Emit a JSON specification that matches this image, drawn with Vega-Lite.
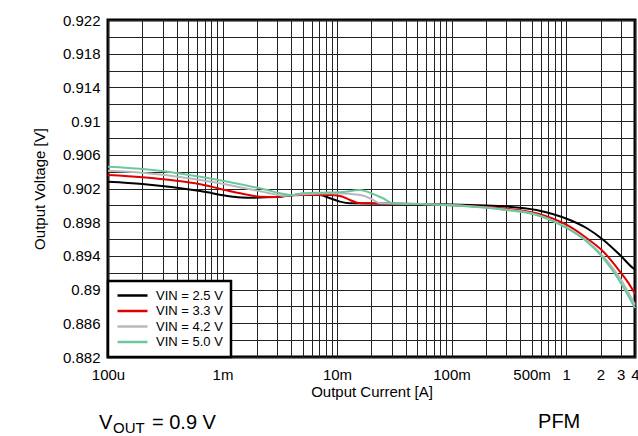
{
  "$schema": "https://vega.github.io/schema/vega-lite/v6.json",
  "width": 527,
  "height": 337,
  "autosize": {"type": "none"},
  "padding": {"left": 108, "top": 20, "right": 3, "bottom": 79},
  "background": "white",
  "config": {
    "font": "Liberation Sans",
    "view": {"stroke": "black", "strokeWidth": 3},
    "axis": {
      "labelFont": "Liberation Sans", "labelFontSize": 15, "labelColor": "black",
      "titleFont": "Liberation Sans", "titleFontSize": 15, "titleFontWeight": "normal", "titleColor": "black",
      "ticks": false, "domain": false, "gridColor": "#222222", "gridOpacity": 1, "gridWidth": 1
    },
    "legend": {"strokeWidth": 2.5}
  },
  "resolve": {"axis": {"y": "independent"}},
  "layer": [
    {
      "data": {"values": [
        {"I":0.0001,"V":0.9028,"s":"2.5"},
        {"I":0.0002,"V":0.90253,"s":"2.5"},
        {"I":0.00064,"V":0.9017,"s":"2.5"},
        {"I":0.00123,"V":0.90103,"s":"2.5"},
        {"I":0.00164,"V":0.90091,"s":"2.5"},
        {"I":0.003,"V":0.90098,"s":"2.5"},
        {"I":0.004,"V":0.9012,"s":"2.5"},
        {"I":0.005,"V":0.90131,"s":"2.5"},
        {"I":0.0071,"V":0.90123,"s":"2.5"},
        {"I":0.0087,"V":0.90084,"s":"2.5"},
        {"I":0.0106,"V":0.90044,"s":"2.5"},
        {"I":0.013,"V":0.90024,"s":"2.5"},
        {"I":0.03,"V":0.9002,"s":"2.5"},
        {"I":0.053,"V":0.90016,"s":"2.5"},
        {"I":0.145,"V":0.90004,"s":"2.5"},
        {"I":0.28,"V":0.89989,"s":"2.5"},
        {"I":0.55,"V":0.89945,"s":"2.5"},
        {"I":1.08,"V":0.89826,"s":"2.5"},
        {"I":1.52,"V":0.89728,"s":"2.5"},
        {"I":2.12,"V":0.89589,"s":"2.5"},
        {"I":2.96,"V":0.8941,"s":"2.5"},
        {"I":3.87,"V":0.89253,"s":"2.5"},
        {"I":4.0,"V":0.8924,"s":"2.5"},

        {"I":0.0001,"V":0.9036,"s":"3.3"},
        {"I":0.0002,"V":0.90333,"s":"3.3"},
        {"I":0.00064,"V":0.9025,"s":"3.3"},
        {"I":0.00123,"V":0.90162,"s":"3.3"},
        {"I":0.00213,"V":0.90103,"s":"3.3"},
        {"I":0.003,"V":0.90098,"s":"3.3"},
        {"I":0.0034,"V":0.90111,"s":"3.3"},
        {"I":0.005,"V":0.90123,"s":"3.3"},
        {"I":0.0087,"V":0.90123,"s":"3.3"},
        {"I":0.0106,"V":0.90111,"s":"3.3"},
        {"I":0.013,"V":0.90064,"s":"3.3"},
        {"I":0.015,"V":0.90032,"s":"3.3"},
        {"I":0.0194,"V":0.90024,"s":"3.3"},
        {"I":0.053,"V":0.90016,"s":"3.3"},
        {"I":0.145,"V":0.89992,"s":"3.3"},
        {"I":0.28,"V":0.89965,"s":"3.3"},
        {"I":0.55,"V":0.89906,"s":"3.3"},
        {"I":1.08,"V":0.89747,"s":"3.3"},
        {"I":1.52,"V":0.89609,"s":"3.3"},
        {"I":2.12,"V":0.8945,"s":"3.3"},
        {"I":2.96,"V":0.89213,"s":"3.3"},
        {"I":3.5,"V":0.8908,"s":"3.3"},
        {"I":4.0,"V":0.8895,"s":"3.3"},

        {"I":0.0001,"V":0.90411,"s":"4.2"},
        {"I":0.0002,"V":0.90388,"s":"4.2"},
        {"I":0.00064,"V":0.90301,"s":"4.2"},
        {"I":0.00123,"V":0.90233,"s":"4.2"},
        {"I":0.00245,"V":0.9015,"s":"4.2"},
        {"I":0.00338,"V":0.90115,"s":"4.2"},
        {"I":0.005,"V":0.90131,"s":"4.2"},
        {"I":0.01,"V":0.90143,"s":"4.2"},
        {"I":0.016,"V":0.90123,"s":"4.2"},
        {"I":0.0194,"V":0.90084,"s":"4.2"},
        {"I":0.024,"V":0.90024,"s":"4.2"},
        {"I":0.053,"V":0.90016,"s":"4.2"},
        {"I":0.145,"V":0.8999,"s":"4.2"},
        {"I":0.28,"V":0.89955,"s":"4.2"},
        {"I":0.55,"V":0.89893,"s":"4.2"},
        {"I":1.08,"V":0.89715,"s":"4.2"},
        {"I":1.52,"V":0.8958,"s":"4.2"},
        {"I":2.12,"V":0.8939,"s":"4.2"},
        {"I":2.96,"V":0.89134,"s":"4.2"},
        {"I":3.87,"V":0.88857,"s":"4.2"},
        {"I":4.0,"V":0.8882,"s":"4.2"},

        {"I":0.0001,"V":0.90459,"s":"5.0"},
        {"I":0.0002,"V":0.90432,"s":"5.0"},
        {"I":0.00064,"V":0.9034,"s":"5.0"},
        {"I":0.00123,"V":0.90269,"s":"5.0"},
        {"I":0.00245,"V":0.90182,"s":"5.0"},
        {"I":0.00318,"V":0.90143,"s":"5.0"},
        {"I":0.0039,"V":0.90123,"s":"5.0"},
        {"I":0.00505,"V":0.90143,"s":"5.0"},
        {"I":0.0071,"V":0.9015,"s":"5.0"},
        {"I":0.0106,"V":0.90155,"s":"5.0"},
        {"I":0.0159,"V":0.90182,"s":"5.0"},
        {"I":0.0194,"V":0.9015,"s":"5.0"},
        {"I":0.0252,"V":0.90084,"s":"5.0"},
        {"I":0.0308,"V":0.90024,"s":"5.0"},
        {"I":0.053,"V":0.90016,"s":"5.0"},
        {"I":0.145,"V":0.89985,"s":"5.0"},
        {"I":0.28,"V":0.89949,"s":"5.0"},
        {"I":0.55,"V":0.89886,"s":"5.0"},
        {"I":1.08,"V":0.89708,"s":"5.0"},
        {"I":1.52,"V":0.89569,"s":"5.0"},
        {"I":2.12,"V":0.89372,"s":"5.0"},
        {"I":2.96,"V":0.89094,"s":"5.0"},
        {"I":3.87,"V":0.88817,"s":"5.0"},
        {"I":4.0,"V":0.8878,"s":"5.0"}
      ]},
      "mark": {"type": "line", "strokeWidth": 2, "interpolate": "monotone"},
      "encoding": {
        "x": {
          "field": "I", "type": "quantitative",
          "scale": {"type": "log", "domain": [0.0001, 4], "nice": false},
          "axis": {
            "title": "Output Current [A]",
            "values": [0.0001,0.0002,0.0003,0.0004,0.0005,0.0006,0.0007,0.0008,0.0009,0.001,0.002,0.003,0.004,0.005,0.006,0.007,0.008,0.009,0.01,0.02,0.03,0.04,0.05,0.06,0.07,0.08,0.09,0.1,0.2,0.3,0.4,0.5,0.6,0.7,0.8,0.9,1,2,3,4],
            "labelExpr": "datum.value == 0.0001 ? '100u' : datum.value == 0.001 ? '1m' : datum.value == 0.01 ? '10m' : datum.value == 0.1 ? '100m' : datum.value == 0.5 ? '500m' : datum.value == 1 ? '1' : datum.value == 2 ? '2' : datum.value == 3 ? '3' : datum.value == 4 ? '4' : ''",
            "labelOverlap": false, "labelFlush": false, "labelPadding": 10, "titlePadding": 2
          }
        },
        "y": {
          "field": "V", "type": "quantitative",
          "scale": {"domain": [0.882, 0.922], "nice": false, "zero": false},
          "axis": {
            "title": "Output Voltage [V]",
            "values": [0.882,0.886,0.89,0.894,0.898,0.902,0.906,0.91,0.914,0.918,0.922],
            "format": "~g",
            "labelOverlap": false, "labelPadding": 8, "titlePadding": 15
          }
        },
        "color": {
          "field": "s", "type": "nominal",
          "scale": {"domain": ["2.5","3.3","4.2","5.0"], "range": ["#000000","#e00000","#b8b8b8","#6cc89c"]},
          "legend": {
            "orient": "bottom-left", "offset": 0, "title": null,
            "labelExpr": "'VIN = ' + datum.label + ' V'",
            "symbolType": "M-1,0L5,0", "symbolSize": 100, "symbolStrokeWidth": 2.5,
            "labelFont": "Liberation Sans", "labelFontSize": 13, "labelColor": "black", "labelOffset": 27,
            "strokeColor": "black", "fillColor": "white", "padding": 8, "rowPadding": 1.5
          }
        }
      }
    },
    {
      "data": {"values": [{"t": "V"}]},
      "mark": {"type": "text", "align": "left", "baseline": "alphabetic", "fontSize": 20, "font": "Liberation Sans", "color": "black"},
      "encoding": {"x": {"datum": 0.0000834}, "y": {"datum": 0.87346, "axis": null}, "text": {"field": "t"}}
    },
    {
      "data": {"values": [{"t": "OUT"}]},
      "mark": {"type": "text", "align": "left", "baseline": "alphabetic", "fontSize": 15, "font": "Liberation Sans", "color": "black"},
      "encoding": {
        "x": {"datum": 0.0001106},
        "y": {"datum": 0.87298, "type": "quantitative", "axis": {"orient": "right", "title": null, "labels": false, "ticks": false, "domain": false, "grid": true, "values": [0.884,0.888,0.892,0.896,0.9,0.904,0.908,0.912,0.916,0.92]}},
        "text": {"field": "t"}
      }
    },
    {
      "data": {"values": [{"t": "= 0.9 V"}]},
      "mark": {"type": "text", "align": "left", "baseline": "alphabetic", "fontSize": 20, "font": "Liberation Sans", "color": "black"},
      "encoding": {"x": {"datum": 0.0002423}, "y": {"datum": 0.87346, "axis": null}, "text": {"field": "t"}}
    },
    {
      "data": {"values": [{"t": "PFM"}]},
      "mark": {"type": "text", "align": "left", "baseline": "alphabetic", "fontSize": 20, "font": "Liberation Sans", "color": "black"},
      "encoding": {"x": {"datum": 0.5694}, "y": {"datum": 0.87354, "axis": null}, "text": {"field": "t"}}
    }
  ]
}
